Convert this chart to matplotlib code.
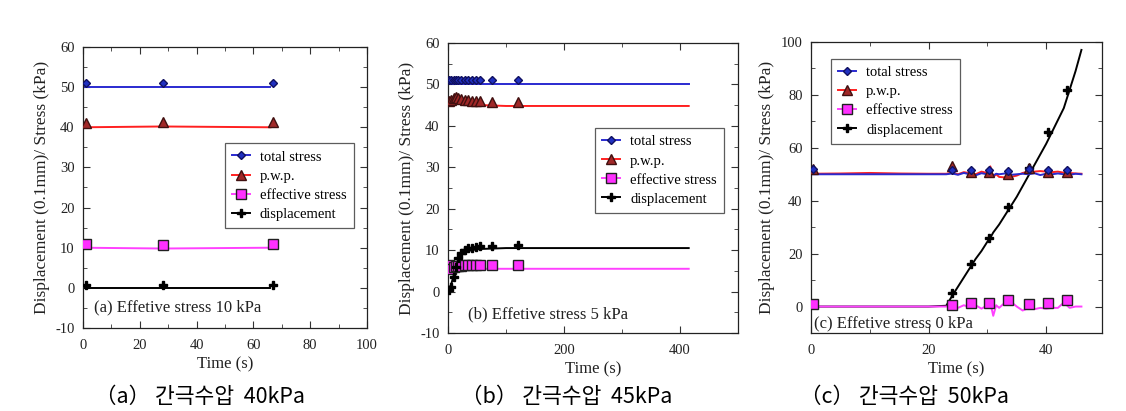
import matplotlib
matplotlib.use("Agg")
import matplotlib.pyplot as plt
from matplotlib.ticker import MultipleLocator

plt.rcParams['font.family'] = ['Liberation Serif', 'DejaVu Serif']
plt.rcParams['axes.unicode_minus'] = False

# ---- data, panel (a) ----
ta_line = [0, 28, 66]
a_total_line = [50, 50, 50]
a_pwp_line = [40, 40.2, 40]
a_eff_line = [10, 9.8, 10]
a_disp_line = [0, 0, 0]
ta_mark = [1, 28, 67]
a_total = [51, 51, 51]
a_pwp = [41, 41.2, 41.2]
a_eff = [11, 10.8, 11]
a_disp = [0.8, 0.8, 0.8]

# ---- data, panel (b) ----
tb_line = [0, 5, 10, 15, 20, 25, 30, 40, 50, 60, 80, 100, 150, 200, 300, 415]
b_total_line = [50, 50, 50, 50, 50, 50, 50, 50, 50, 50, 50, 50, 50, 50, 50, 50]
b_pwp_line = [45.5, 45.6, 45.8, 46.0, 45.9, 45.7, 45.5, 45.3, 45.2, 45.0, 44.9, 44.8, 44.8, 44.8, 44.8, 44.8]
b_eff_line = [6.0, 5.2, 5.0, 5.3, 5.5, 5.5, 5.5, 5.5, 5.5, 5.5, 5.5, 5.5, 5.5, 5.5, 5.5, 5.5]
b_disp_line = [0.5, 1.5, 4.0, 6.5, 8.0, 9.0, 9.6, 10.0, 10.2, 10.3, 10.4, 10.5, 10.5, 10.5, 10.5, 10.5]
tb_mark = [2, 5, 10, 14, 18, 23, 29, 35, 41, 48, 55, 75, 120]
b_total = [51, 51, 51, 51, 51, 51, 51, 51, 51, 51, 51, 51, 51]
b_pwp = [46, 46.2, 46.8, 47, 46.7, 46.5, 46.3, 46.2, 46.1, 46.0, 46.0, 45.8, 45.8]
b_eff = [6.3, 5.5, 6.0, 6.1, 6.2, 6.2, 6.3, 6.3, 6.3, 6.4, 6.4, 6.4, 6.4]
b_disp = [0.5, 1.0, 3.5, 6.0, 8.0, 9.3, 10.0, 10.4, 10.6, 10.8, 11.0, 11.1, 11.2]

# ---- data, panel (c) ----
tc_line = [0, 5, 10, 15, 20, 23, 24, 25, 26, 27, 28, 29, 30, 30.5, 31, 31.5,
           32, 33, 34, 35, 36, 37, 38, 39, 40, 41, 42, 43, 44, 45, 46]
c_total_line = [50, 50, 50, 50, 50, 50, 50.3, 49.8, 50.5, 50, 49.6, 50.4, 50, 50.5, 49.5, 50.2,
                50, 50.3, 49.8, 50, 50.2, 50, 50.4, 49.7, 50.2, 50, 50.3, 50, 49.8, 50.2, 50]
c_pwp_line = [50.2, 50.3, 50.5, 50.3, 50.2, 50.2, 50.6, 50, 50.8, 50.4, 50, 51, 50.5, 53, 49, 50,
              49, 48.8, 49, 49.5, 50.5, 51, 51, 51.2, 51, 50.8, 51, 50.6, 50.5, 50.3, 50.2]
c_eff_line = [0, 0, 0, 0, 0, 0, 0.3, -0.5, 0.5, -0.3, 0.5, -0.8, 0.5, 1.5, -3.5, 0.5,
              -0.5, 1.5, 1.8, 0, -1.5, -0.5, -1, -0.5, -0.8, -0.5, -0.5, 1.5, -0.5, 0, 0]
c_disp_line = [0, 0, 0, 0, 0, 0.3, 4, 7.5, 11, 14.5, 18, 21, 24.5, 26, 28, 29.5,
               31, 34.5, 38, 41.5, 45.5, 49.5, 53.5, 57.5, 61.5, 66, 70.5, 75, 82, 89, 97]
tc_mark = [0.3, 24, 27.2, 30.3, 33.5, 37, 40.3, 43.5]
c_total = [52, 51.8, 51.5, 51.5, 51.3, 52, 51.8, 51.5]
c_pwp = [52, 53, 51, 51, 50, 52.5, 51, 51]
c_eff = [1, 0.5, 1.5, 1.5, 2.5, 0.8, 1.5, 2.5]
c_disp = [1, 5, 16, 26, 37.5, 52.5, 66, 82]

series_names = ["total stress", "p.w.p.", "effective stress", "displacement"]
panel_notes = ["(a) Effetive stress 10 kPa", "(b) Effetive stress 5 kPa", "(c) Effetive stress 0 kPa"]
captions = ["（a） 간극수압  40kPa", "（b） 간극수압  45kPa", "（c） 간극수압  50kPa"]

line_colors = ["#2a2ad0", "#ff2020", "#ff40ff", "#000000"]
mk = [dict(marker="D", ms=4.5, mfc="#2030c0", mec="#101060"),
      dict(marker="^", ms=6.5, mfc="#a02828", mec="#401010"),
      dict(marker="s", ms=6.5, mfc="#ff30ff", mec="#202020"),
      dict(marker="P", ms=5.5, mfc="#000000", mec="#000000")]

fig = plt.figure(figsize=(11.26, 4.11), dpi=100)
W, H = 1126, 411

def box(l, r, t, b):
    return [l / W, (H - b) / H, (r - l) / W, (b - t) / H]

axes = [fig.add_axes(box(83, 367, 47, 328)),
        fig.add_axes(box(448, 738, 43, 333)),
        fig.add_axes(box(811, 1102, 42, 333))]

panels = [
    (ta_line, [a_total_line, a_pwp_line, a_eff_line, a_disp_line], ta_mark, [a_total, a_pwp, a_eff, a_disp]),
    (tb_line, [b_total_line, b_pwp_line, b_eff_line, b_disp_line], tb_mark, [b_total, b_pwp, b_eff, b_disp]),
    (tc_line, [c_total_line, c_pwp_line, c_eff_line, c_disp_line], tc_mark, [c_total, c_pwp, c_eff, c_disp]),
]

for i, (ax, (tl, lines, tm, marks)) in enumerate(zip(axes, panels)):
    order = [0, 1, 2, 3] if i < 2 else [3, 2, 1, 0]
    for k in order:
        ax.plot(tl, lines[k], color=line_colors[k], lw=1.4, zorder=2)
        ax.plot(tm, marks[k], ls="none", zorder=3, **mk[k])
    # legend proxies
    for k in range(4):
        ax.plot([], [], color=line_colors[k], lw=1.4, label=series_names[k], **mk[k])
    ax.tick_params(which="both", direction="in", top=True, right=True, labelsize=10.5,
                   colors="#333333", labelcolor="#222222")
    ax.tick_params(axis="x", which="major", pad=8)
    ax.tick_params(axis="y", which="major", pad=6)
    ax.tick_params(which="major", length=5)
    ax.tick_params(which="minor", length=3)
    ax.set_ylabel("Displacement (0.1mm)/ Stress (kPa)", fontsize=12.5, labelpad=4, color="#222222")
    ax.set_xlabel("Time (s)", fontsize=12, labelpad=3, color="#222222")
    for s in ax.spines.values():
        s.set_linewidth(0.9)
        s.set_color("#222222")

# axis ranges
axes[0].set_xlim(0, 100)
axes[0].set_ylim(-10, 60)
axes[0].xaxis.set_major_locator(MultipleLocator(20))
axes[0].xaxis.set_minor_locator(MultipleLocator(10))
axes[0].yaxis.set_major_locator(MultipleLocator(10))
axes[0].yaxis.set_minor_locator(MultipleLocator(5))

axes[1].set_xlim(0, 500)
axes[1].set_ylim(-10, 60)
axes[1].xaxis.set_major_locator(MultipleLocator(200))
axes[1].xaxis.set_minor_locator(MultipleLocator(100))
axes[1].yaxis.set_major_locator(MultipleLocator(10))
axes[1].yaxis.set_minor_locator(MultipleLocator(5))

axes[2].set_xlim(0, 49.5)
axes[2].set_ylim(-10, 100)
axes[2].xaxis.set_major_locator(MultipleLocator(20))
axes[2].xaxis.set_minor_locator(MultipleLocator(10))
axes[2].yaxis.set_major_locator(MultipleLocator(20))
axes[2].yaxis.set_minor_locator(MultipleLocator(10))

legend_pos = [(0.50, 0.658), (0.507, 0.707), (0.069, 0.942)]
for ax, pos in zip(axes, legend_pos):
    leg = ax.legend(loc="upper left", bbox_to_anchor=pos, fontsize=10.5, frameon=True,
                    fancybox=False, edgecolor="#333333", handlelength=1.2,
                    borderpad=0.5, labelspacing=0.4, handletextpad=0.7,
                    borderaxespad=0)
    leg.get_frame().set_linewidth(0.9)

note_pos = [(0.04, 0.06), (0.07, 0.05), (0.01, 0.02)]
for ax, note, pos in zip(axes, panel_notes, note_pos):
    ax.text(pos[0], pos[1], note, transform=ax.transAxes, fontsize=12, color="#222222")

cap_x = [200, 567, 905]
for x, cap in zip(cap_x, captions):
    fig.text(x / W, 1 - 397 / H, cap, ha="center", va="center", fontsize=15.5,
             family=["Noto Sans CJK KR", "DejaVu Sans"])

fig.savefig("out.png", dpi=100)
